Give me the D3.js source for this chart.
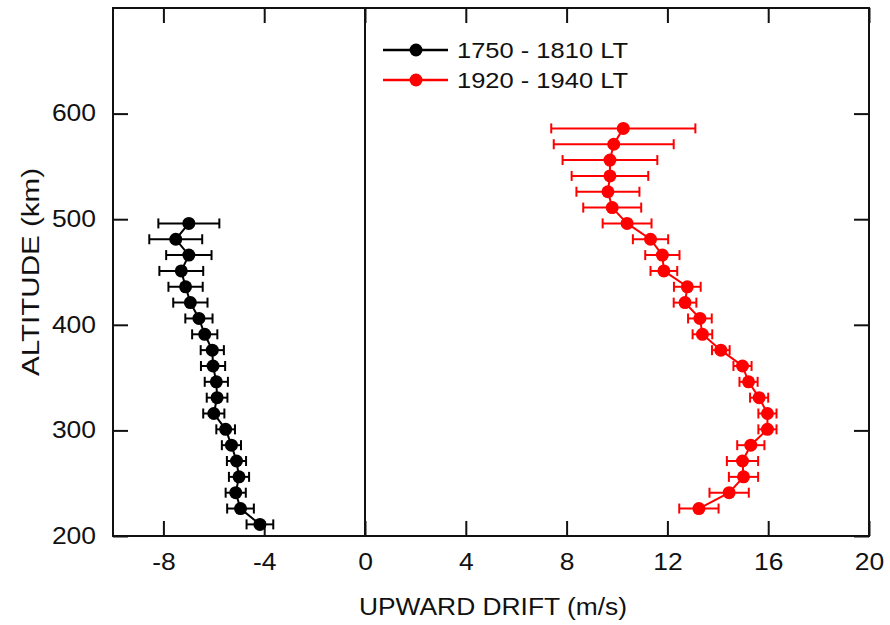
<!DOCTYPE html>
<html>
<head>
<meta charset="utf-8">
<script src="https://cdn.jsdelivr.net/npm/d3@7"></script>
<style>
  html, body { margin: 0; padding: 0; background: #fff; }
  svg text { font-family: "Liberation Sans", Arial, Helvetica, sans-serif; fill: #111; }
</style>
</head>
<body>
<svg id="chart" width="890" height="625"></svg>
<script>
// ---- data ----
const blackAltitude = [211,226,241,256,271,286,301,316,331,346,361,376,391,406,421,436,451,466,481,496];
const blackDrift    = [-4.17,-4.94,-5.13,-5.00,-5.10,-5.30,-5.53,-6.00,-5.87,-5.90,-6.03,-6.06,-6.36,-6.59,-6.93,-7.12,-7.29,-6.99,-7.51,-6.99];
const blackError    = [0.53,0.53,0.40,0.40,0.38,0.38,0.37,0.42,0.41,0.46,0.48,0.46,0.50,0.54,0.68,0.68,0.87,0.90,1.05,1.21];

const redAltitude = [226,241,256,271,286,301,316,331,346,361,376,391,406,421,436,451,466,481,496,511,526,541,556,571,586];
const redDrift    = [13.25,14.45,15.02,14.98,15.31,15.97,15.97,15.64,15.22,14.98,14.12,13.39,13.29,12.70,12.79,11.86,11.80,11.33,10.40,9.81,9.64,9.72,9.72,9.87,10.25];
const redError    = [0.78,0.78,0.58,0.62,0.54,0.36,0.36,0.36,0.36,0.36,0.35,0.39,0.47,0.45,0.53,0.53,0.68,0.70,0.97,1.15,1.25,1.52,1.88,2.38,2.86];

const seriesNames = ["1750 - 1810 LT", "1920 - 1940 LT"];
const seriesColors = ["#000000", "#ff0000"];
const xTicks = [-8,-4,0,4,8,12,16,20];
const yTicks = [200,300,400,500,600];
const xTitle = "UPWARD DRIFT (m/s)";
const yTitle = "ALTITUDE (km)";

// ---- layout ----
const L = 113, R = 869, T = 8, B = 536;
const svg = d3.select("#chart");
const x = d3.scaleLinear().domain([-10, 20]).range([L, R]);
const y = d3.scaleLinear().domain([200, 700]).range([B, T]);

function stretch(sel, factor) {
  sel.each(function() {
    const w = this.getComputedTextLength();
    this.setAttribute("textLength", w * factor);
    this.setAttribute("lengthAdjust", "spacingAndGlyphs");
  });
}
function fitWidth(sel, width) {
  sel.attr("textLength", width).attr("lengthAdjust", "spacingAndGlyphs");
}

// axes with inward ticks
const fmt = d => String(d);
const gB = svg.append("g").attr("transform", `translate(0,${B})`)
  .call(d3.axisBottom(x).tickValues(xTicks).tickSize(-15).tickPadding(18).tickFormat(fmt));
const gL = svg.append("g").attr("transform", `translate(${L},0)`)
  .call(d3.axisLeft(y).tickValues(yTicks).tickSize(-15).tickPadding(17).tickFormat(fmt));
const gT = svg.append("g").attr("transform", `translate(0,${T})`)
  .call(d3.axisTop(x).tickValues(xTicks).tickSize(-15).tickFormat(""));
const gR = svg.append("g").attr("transform", `translate(${R},0)`)
  .call(d3.axisRight(y).tickValues(yTicks).tickSize(-15).tickFormat(""));
[gB, gL, gT, gR].forEach(g => {
  g.select(".domain").remove();
  g.selectAll(".tick line").attr("stroke", "#111").attr("stroke-width", 2);
  g.selectAll(".tick text").attr("font-size", 23).attr("fill", "#111")
    .style("font-family", "'Liberation Sans', Arial, sans-serif");
});
stretch(gB.selectAll(".tick text"), 1.15);
stretch(gL.selectAll(".tick text"), 1.15);

// frame
svg.append("rect").attr("x", L).attr("y", T).attr("width", R - L).attr("height", B - T)
  .attr("fill", "none").attr("stroke", "#111").attr("stroke-width", 2);
// zero line
svg.append("line").attr("x1", x(0)).attr("x2", x(0)).attr("y1", T).attr("y2", B)
  .attr("stroke", "#111").attr("stroke-width", 2);

// titles
const xt = svg.append("text").attr("x", 493).attr("y", 615)
  .attr("text-anchor", "middle").attr("font-size", 23).text(xTitle);
fitWidth(xt, 268);
const yt = svg.append("text").attr("transform", `translate(39,${(T + B) / 2}) rotate(-90)`)
  .attr("text-anchor", "middle").attr("font-size", 23).text(yTitle);
fitWidth(yt, 208);

// series
function drawSeries(alt, drift, err, color, r) {
  const g = svg.append("g");
  const data = alt.map((a, i) => ({a, v: drift[i], e: err[i]}));
  g.selectAll("line.eb").data(data).enter().append("line")
    .attr("x1", d => x(d.v - d.e)).attr("x2", d => x(d.v + d.e))
    .attr("y1", d => y(d.a)).attr("y2", d => y(d.a))
    .attr("stroke", color).attr("stroke-width", 2);
  ["lo", "hi"].forEach(k => {
    g.selectAll("line.cap" + k).data(data).enter().append("line")
      .attr("x1", d => x(k === "lo" ? d.v - d.e : d.v + d.e))
      .attr("x2", d => x(k === "lo" ? d.v - d.e : d.v + d.e))
      .attr("y1", d => y(d.a) - 5).attr("y2", d => y(d.a) + 5)
      .attr("stroke", color).attr("stroke-width", 2);
  });
  g.append("path").datum(data)
    .attr("d", d3.line().x(d => x(d.v)).y(d => y(d.a)))
    .attr("fill", "none").attr("stroke", color).attr("stroke-width", 2);
  g.selectAll("circle").data(data).enter().append("circle")
    .attr("cx", d => x(d.v)).attr("cy", d => y(d.a)).attr("r", r).attr("fill", color);
}
drawSeries(blackAltitude, blackDrift, blackError, seriesColors[0], 6.5);
drawSeries(redAltitude, redDrift, redError, seriesColors[1], 6.5);

// legend
const legY = [50, 80];
seriesNames.forEach((name, i) => {
  svg.append("line").attr("x1", 383).attr("x2", 448).attr("y1", legY[i]).attr("y2", legY[i])
    .attr("stroke", seriesColors[i]).attr("stroke-width", 2.5);
  svg.append("circle").attr("cx", 416).attr("cy", legY[i]).attr("r", 6.5).attr("fill", seriesColors[i]);
  const t = svg.append("text").attr("x", 457).attr("y", legY[i] + 8)
    .attr("font-size", 22).text(name);
  fitWidth(t, 171);
});
</script>
</body>
</html>
